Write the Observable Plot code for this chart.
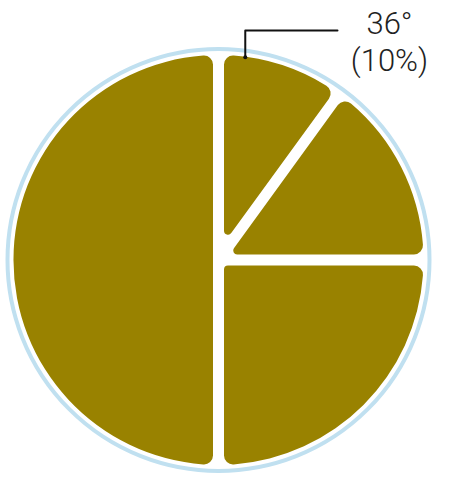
<!DOCTYPE html>
<html><head><meta charset="utf-8">
<script src="https://cdn.jsdelivr.net/npm/d3@7"></script>
<script src="https://cdn.jsdelivr.net/npm/@observablehq/plot@0.6"></script>
<style>html,body{margin:0;padding:0;background:#fff}</style>
</head><body><div id="chart"></div>
<script>
// Data
const categories = ["A", "B", "C", "D"];
const shares = [10, 15, 25, 50];
const labelLines = ["36°", "(10%)"];

const OLIVE = "#998200";
const RIM = "#c0e0f0";

const slices = categories.map((c, i) => ({category: c, share: shares[i]}));
const arcs = d3.pie().sort(null).value(d => d.share).startAngle(0).endAngle(2 * Math.PI)(slices);

// slice path with parallel gaps and rounded corners (outer rc, inner ri)
function slicePath(a0, a1, R, g, rc, ri) {
  const d = g / 2;
  const u = a => [Math.sin(a), -Math.cos(a)];
  const u0 = u(a0), u1 = u(a1);
  const n0 = [Math.cos(a0), Math.sin(a0)];
  const n1 = [-Math.cos(a1), -Math.sin(a1)];
  const P = (t, uu, s, nn) => [t * uu[0] + s * nn[0], t * uu[1] + s * nn[1]];
  const tc = Math.sqrt((R - rc) ** 2 - (d + rc) ** 2);
  const lo0 = P(tc, u0, d, n0), c0 = P(tc, u0, d + rc, n0);
  const lo1 = P(tc, u1, d, n1), c1 = P(tc, u1, d + rc, n1);
  const k = R / (R - rc);
  const co0 = [c0[0] * k, c0[1] * k], co1 = [c1[0] * k, c1[1] * k];
  const h = (a1 - a0) / 2;
  const ti = (d + ri) / Math.sin(h) * Math.cos(h);
  const li0 = P(ti, u0, d, n0), li1 = P(ti, u1, d, n1);
  const large = (a1 - a0) > Math.PI + 1e-9 ? 1 : 0;
  const f = p => `${p[0].toFixed(2)},${p[1].toFixed(2)}`;
  let s = `M${f(li0)}L${f(lo0)}A${rc},${rc} 0 0 1 ${f(co0)}A${R},${R} 0 ${large} 1 ${f(co1)}A${rc},${rc} 0 0 1 ${f(lo1)}L${f(li1)}`;
  if (Math.abs(h - Math.PI / 2) > 1e-6) s += `A${ri},${ri} 0 0 1 ${f(li0)}`;
  return s + "Z";
}

const SLICE_R = 205 / 211;
// Leader anchor on the first slice
const anchorAngle = 0.1285;
const ax = SLICE_R * Math.sin(anchorAngle), ay = SLICE_R * Math.cos(anchorAngle);
const leader = [
  {x: ax, y: ay},
  {x: ax, y: 1.09},
  {x: 0.5616, y: 1.09}
];

function pieMark(index, scales) {
  const {x, y} = scales;
  const cx = x(0), cy = y(0);
  const k = x(1) - x(0);
  const g = d3.create("svg:g");
  g.append("circle")
    .attr("cx", cx).attr("cy", cy).attr("r", k)
    .attr("fill", "none").attr("stroke", RIM).attr("stroke-width", 4);
  g.selectAll("path").data(arcs).join("path")
    .attr("transform", `translate(${cx},${cy})`)
    .attr("d", a => slicePath(a.startAngle, a.endAngle, k * SLICE_R, 11, 9, 4))
    .attr("fill", OLIVE);
  return g.node();
}

const chart = Plot.plot({
  width: 450,
  height: 481,
  margin: 0,
  x: {domain: [-218.5 / 211, 231.5 / 211], range: [0, 450], axis: null},
  y: {domain: [-221 / 211, 260 / 211], range: [481, 0], axis: null},
  style: {background: "#fff"},
  marks: [
    pieMark,
    Plot.line(leader, {x: "x", y: "y", stroke: "#111", strokeWidth: 2}),
    Plot.dot([leader[0]], {x: "x", y: "y", r: 2, fill: "#111"}),
    Plot.text([labelLines.join("\n")], {
      x: () => 0.808, y: () => 1.194, text: d => d,
      lineAnchor: "top", lineHeight: 1.17,
      fontSize: 31, fontWeight: 300, fontFamily: "Roboto, 'Open Sans', sans-serif",
      fill: "#222"
    })
  ]
});
document.getElementById("chart").appendChild(chart);
</script>
</body></html>
